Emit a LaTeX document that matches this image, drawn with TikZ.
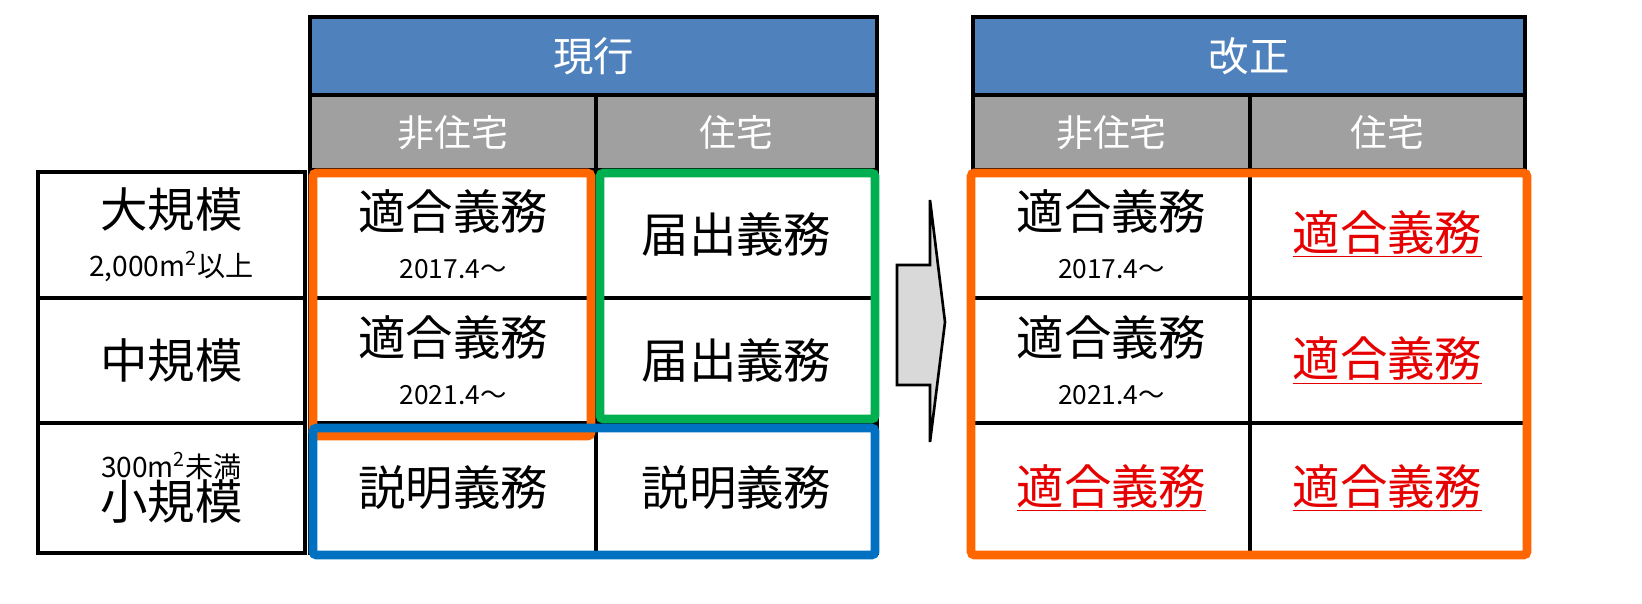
\documentclass[tikz,border=0pt]{standalone}
\usepackage{fontspec}
\setmainfont{Noto Sans CJK JP}
\usetikzlibrary{positioning}
\definecolor{hdrblue}{RGB}{79,129,189}
\definecolor{hdrgray}{RGB}{160,160,160}
\definecolor{boxorange}{RGB}{255,102,0}
\definecolor{boxgreen}{RGB}{0,176,80}
\definecolor{boxblue}{RGB}{0,112,192}
\definecolor{dutyred}{RGB}{230,0,0}
\tikzset{
  cell/.style={draw=black, line width=2.5pt, inner sep=0pt, font=\fontsize{27}{30}\selectfont},
  head/.style={cell, fill=hdrblue, text=white, font=\fontsize{23}{26}\selectfont},
  sub/.style={cell, fill=hdrgray, text=white, font=\fontsize{21}{24}\selectfont},
  frame/.style={line width=5pt, rounded corners=2pt},
}
\newcommand{\duty}{\textcolor{dutyred}{\underline{適合義務}}}
\newcommand{\since}[1]{\\[-2pt]{\fontsize{15}{17}\selectfont #1}}
\begin{document}
\begin{tikzpicture}[x=0.02cm,y=-0.02cm]
  \useasboundingbox (0,0) rectangle (1642,603);
  % current table
  \node[head, minimum width=567*0.02cm, minimum height=78*0.02cm] (now) at (593.5,56) {現行};
  \node[sub, minimum width=286*0.02cm, minimum height=75*0.02cm] (nowA) at (453,132.5) {非住宅};
  \node[sub, minimum width=281*0.02cm, minimum height=75*0.02cm] (nowB) at (736.5,132.5) {住宅};
  \foreach \n/\y/\h/\t in {L1/235/126/{大規模\since{\fontsize{16}{18}\selectfont 2,000m\textsuperscript{2}以上}},
                           L2/360.5/125/中規模,
                           L3/488/130/{{\fontsize{16}{18}\selectfont 300m\textsuperscript{2}未満}\\[-6pt]小規模}}
    \node[cell, align=center, minimum width=267*0.02cm, minimum height=\h*0.02cm] (\n) at (171.5,\y) {\t};
  \node[cell, align=center, minimum width=286*0.02cm, minimum height=128*0.02cm] (a1) at (453,234) {適合義務\since{2017.4～}};
  \node[cell, minimum width=281*0.02cm, minimum height=128*0.02cm] (b1) at (736.5,234) {届出義務};
  \node[cell, align=center, minimum width=286*0.02cm, minimum height=125*0.02cm] (a2) at (453,360.5) {適合義務\since{2021.4～}};
  \node[cell, minimum width=281*0.02cm, minimum height=125*0.02cm] (b2) at (736.5,360.5) {届出義務};
  \node[cell, minimum width=286*0.02cm, minimum height=130*0.02cm] (a3) at (453,488) {説明義務};
  \node[cell, minimum width=281*0.02cm, minimum height=130*0.02cm] (b3) at (736.5,488) {説明義務};
  \draw[frame, boxorange] (313,173) rectangle (591,436);
  \draw[frame, boxgreen] (600,173) rectangle (875,419);
  \draw[frame, boxblue] (313,428) rectangle (875,555);
  % arrow
  \draw[line width=1.5pt, fill=black!15] (897,265) -- (930,265) -- (930,200) -- (945,322)
    -- (930,442) -- (930,385) -- (897,385) -- cycle;
  % revised table
  \node[head, minimum width=552*0.02cm, minimum height=78*0.02cm] (new) at (1249,56) {改正};
  \node[sub, minimum width=277*0.02cm, minimum height=75*0.02cm] (newA) at (1111.5,132.5) {非住宅};
  \node[sub, minimum width=275*0.02cm, minimum height=75*0.02cm] (newB) at (1387.5,132.5) {住宅};
  \node[cell, align=center, minimum width=277*0.02cm, minimum height=128*0.02cm] (c1) at (1111.5,234) {適合義務\since{2017.4～}};
  \node[cell, minimum width=275*0.02cm, minimum height=128*0.02cm] (d1) at (1387.5,234) {\duty};
  \node[cell, align=center, minimum width=277*0.02cm, minimum height=125*0.02cm] (c2) at (1111.5,360.5) {適合義務\since{2021.4～}};
  \node[cell, minimum width=275*0.02cm, minimum height=125*0.02cm] (d2) at (1387.5,360.5) {\duty};
  \node[cell, minimum width=277*0.02cm, minimum height=130*0.02cm] (c3) at (1111.5,488) {\duty};
  \node[cell, minimum width=275*0.02cm, minimum height=130*0.02cm] (d3) at (1387.5,488) {\duty};
  \draw[frame, boxorange] (971,173) rectangle (1527,555);
\end{tikzpicture}
\end{document}
